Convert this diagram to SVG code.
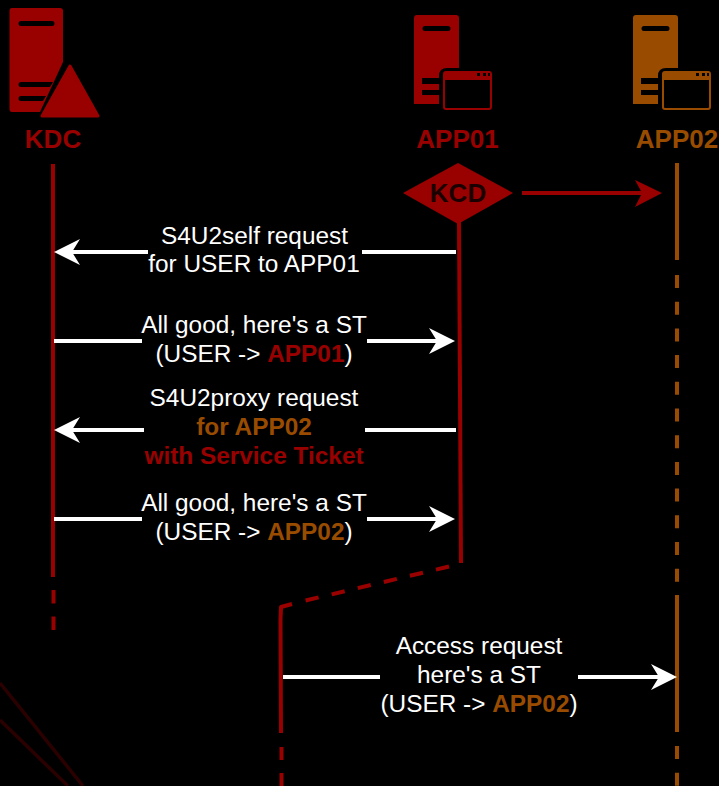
<svg xmlns="http://www.w3.org/2000/svg" width="719" height="786" viewBox="0 0 719 786">
<style>
text{font-family:"Liberation Sans",Arial,sans-serif;font-size:24.400px;text-anchor:middle}
.w{fill:#fff}.r{fill:#990000;font-weight:bold}.o{fill:#994c00;font-weight:bold}
.lr{stroke:#990000;stroke-width:4;fill:none}.lo{stroke:#994c00;stroke-width:4;fill:none}
.a{stroke:#fff;stroke-width:4;fill:none}.h{fill:#fff}
.n{font-size:26px}
</style>
<rect width="719" height="786" fill="#000"/>
<g id="connectors">
<path d="M0 683L83 786M0 720L68 786" stroke="#2a0000" stroke-width="3.500" fill="none"/>
<path class="lr" d="M53 164V577"/>
<path class="lr" d="M53.500 590V630" stroke-dasharray="13.500 13"/>
<path class="lr" d="M459 222L461 563"/>
<path class="lr" stroke-dasharray="13.400 13.400" d="M449 566.500L293 603.500"/>
<path class="lr" stroke-linejoin="round" d="M292 604L281 607L280.500 620L281 733"/>
<path class="lr" d="M281.500 747V786" stroke-dasharray="13 13"/>
<path class="lo" d="M677 163V260"/>
<path class="lo" d="M677 275V590" stroke-dasharray="13 13.700"/>
<path class="lo" d="M677 595V732"/>
<path class="lo" d="M677 746V786" stroke-dasharray="13 13.700"/>
<path d="M522 193H642" stroke="#990000" stroke-width="4" fill="none"/>
<path d="M662 193L635 180L642 193L635 207Z" fill="#990000"/>
<path class="a" d="M148 252H70"/><path class="h" d="M54 252L80 239L72 252L80 265Z"/><path class="a" d="M362 252H456"/>
<path class="a" d="M54 341H142"/><path class="a" d="M367 341H440"/><path class="h" d="M455 341L429 328L437 341L429 354Z"/>
<path class="a" d="M144 430H70"/><path class="h" d="M54 430L80 417L72 430L80 443Z"/><path class="a" d="M365 430H456"/>
<path class="a" d="M54 519H142"/><path class="a" d="M367 519H440"/><path class="h" d="M455 519L429 506L437 519L429 532Z"/>
<path class="a" d="M283 677H380"/><path class="a" d="M578 677H662"/><path class="h" d="M677 677L651 664L659 677L651 690Z"/>
</g>
<g id="kdc">
<path fill="#990000" d="M12 8H60Q63 8 63 11V62L40 112H12Q9.500 112 9.500 109V11Q9.500 8 12 8Z"/>
<path fill="#000" d="M21 21H52A2.500 2.500 0 0 1 52 26H21A2.500 2.500 0 0 1 21 21ZM21 82H53L50 87H21A2.500 2.500 0 0 1 21 82ZM21 96H46L43 101H21A2.500 2.500 0 0 1 21 96Z"/>
<path fill="#990000" stroke="#990000" stroke-width="3" stroke-linejoin="round" d="M70 66L98 116H42Z"/>
<text class="r n" x="53" y="148">KDC</text>
</g>
<g id="app01">
<path fill="#990000" d="M417 15H456Q459 15 459 18V68H447Q439 68 439 76V104H414V18Q414 15 417 15Z"/>
<path fill="#000" d="M425 26H448A2 2 0 0 1 448 31H425A2 2 0 0 1 425 26ZM422 78H439V84H422ZM422 90H439V95H422Z"/>
<rect x="444" y="72" width="47" height="37" rx="2" fill="none" stroke="#990000" stroke-width="2"/>
<path fill="#990000" d="M444 72H491V80H444Z"/>
<path fill="#000" d="M477 73h3v3h-3zM483 73h3v3h-3zM488 73h2v3h-2z"/>
<text class="r n" x="457.500" y="148">APP01</text>
</g>
<g id="app02">
<path fill="#994c00" d="M636 15H675Q678 15 678 18V68H666Q658 68 658 76V104H633V18Q633 15 636 15Z"/>
<path fill="#000" d="M644 26H667A2 2 0 0 1 667 31H644A2 2 0 0 1 644 26ZM641 78H658V84H641ZM641 90H658V95H641Z"/>
<rect x="663" y="72" width="47" height="37" rx="2" fill="none" stroke="#994c00" stroke-width="2"/>
<path fill="#994c00" d="M663 72H710V80H663Z"/>
<path fill="#000" d="M696 73h3v3h-3zM702 73h3v3h-3zM707 73h2v3h-2z"/>
<text class="o n" x="677" y="148">APP02</text>
</g>
<g id="kcd">
<path fill="#990000" d="M458 163L513 193L458 224L403 193Z"/>
<text x="458" y="202" fill="#1a0000" font-weight="bold" style="font-size:26px">KCD</text>
</g>
<g id="m1"><text class="w" x="254.500" y="244">S4U2self request</text><text class="w" x="254" y="272">for USER to APP01</text></g>
<g id="m2"><text class="w" x="254" y="333">All good, here's a ST</text><text class="w" x="254" y="362">(USER -&gt; <tspan class="r">APP01</tspan>)</text></g>
<g id="m3"><text class="w" x="254" y="406">S4U2proxy request</text><text class="o" x="254" y="435">for APP02</text><text class="r" x="254" y="464">with Service Ticket</text></g>
<g id="m4"><text class="w" x="254" y="511">All good, here's a ST</text><text class="w" x="254" y="540">(USER -&gt; <tspan class="o">APP02</tspan>)</text></g>
<g id="m5"><text class="w" x="479" y="654">Access request</text><text class="w" x="479" y="683">here's a ST</text><text class="w" x="479" y="712">(USER -&gt; <tspan class="o">APP02</tspan>)</text></g>
</svg>
